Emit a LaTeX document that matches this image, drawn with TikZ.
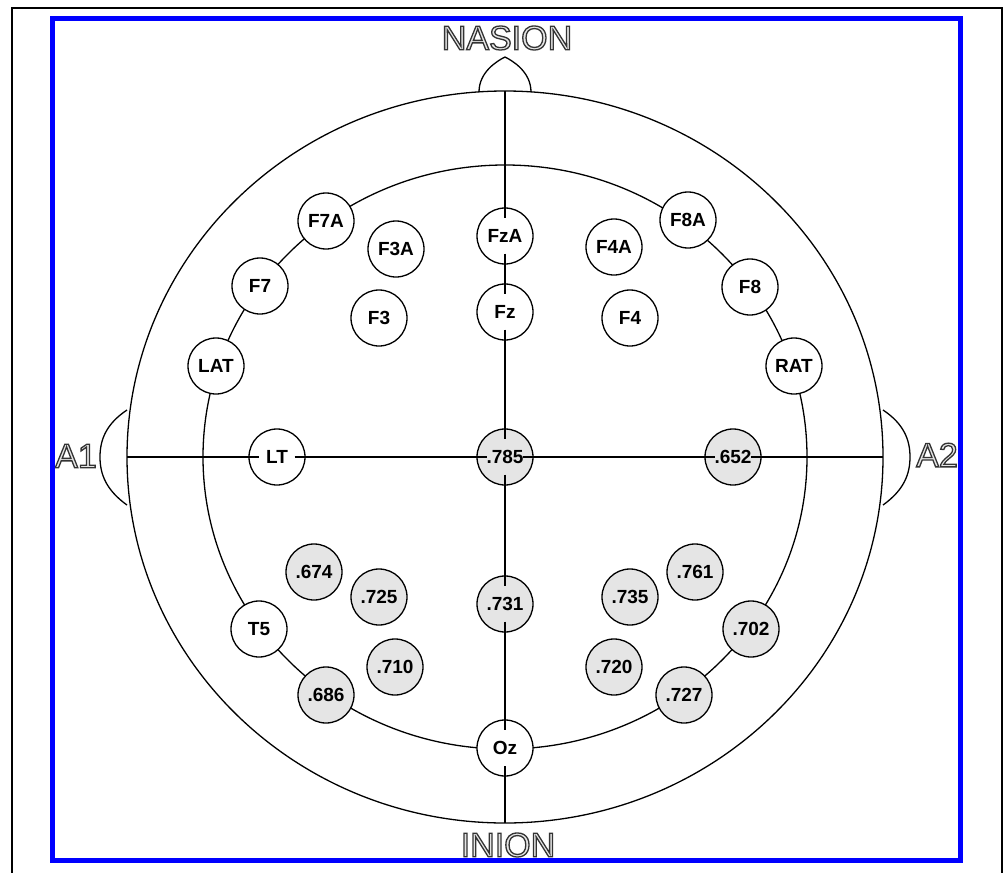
\documentclass[tikz,border=0pt]{standalone}
\usepackage{fontspec}
\setmainfont{Liberation Sans}
\newcommand{\hollow}[1]{\special{pdf:literal 2 Tr 1.3 w 0.2 G 0.9 g}#1\special{pdf:literal 0 Tr 0 G 0 g}}
\begin{document}
\begin{tikzpicture}[x=1pt,y=-1pt,line width=1.3pt,
  elec/.style={circle,draw,line width=1.3pt,fill=white,minimum size=56pt,inner sep=0pt,
    font=\bfseries\fontsize{19}{19}\selectfont},
  val/.style={elec,fill=black!10},
  landmark/.style={font=\fontsize{34}{34}\selectfont},
  stub/.style={line width=1.2pt,shorten <=-11pt,shorten >=-11pt},
  stubA/.style={line width=1.2pt,shorten >=-11pt}]
\useasboundingbox (0,0) rectangle (1003,872);
% outer frame
\draw[line width=1.5pt] (12,880) -- (12,8) -- (1002,8) -- (1002,880);
% head
\draw (505,457) ellipse [x radius=378, y radius=366];
\draw (479,92) .. controls (479,72) and (497,61) .. (505,57) .. controls (513,61) and (531,72) .. (531,92);
\draw (127,410) .. controls (106,424) and (100,440) .. (100,457) .. controls (100,474) and (106,490) .. (127,505);
\draw (883,410) .. controls (904,424) and (910,440) .. (910,457) .. controls (910,474) and (904,490) .. (883,505);
\draw (505,457) ellipse [x radius=302, y radius=292];
\coordinate (top) at (505,91);
\coordinate (bot) at (505,823);
\coordinate (lft) at (127,457);
\coordinate (rgt) at (883,457);
\draw[line width=1.2pt] (top) -- (bot);
\draw[line width=1.2pt] (lft) -- (rgt);
% electrodes
\node[elec] (F7A) at (326,221) {F7A};
\node[elec] (F3A) at (396,249) {F3A};
\node[elec] (FzA) at (505,236) {FzA};
\node[elec] (F4A) at (614,247) {F4A};
\node[elec] (F8A) at (688,220) {F8A};
\node[elec] (F7) at (260,286) {F7};
\node[elec] (F3) at (379,318) {F3};
\node[elec] (Fz) at (505,312) {Fz};
\node[elec] (F4) at (630,318) {F4};
\node[elec] (F8) at (750,287) {F8};
\node[elec] (LAT) at (216,366) {LAT};
\node[elec] (RAT) at (794,366) {RAT};
\node[elec] (LT) at (277,457) {LT};
\node[val] (C785) at (505,457) {.785};
\node[val] (C652) at (733,457) {.652};
\node[val] (C674) at (314,572) {.674};
\node[val] (C725) at (379,597) {.725};
\node[val] (C731) at (505,604) {.731};
\node[val] (C735) at (630,597) {.735};
\node[val] (C761) at (695,572) {.761};
\node[elec] (T5) at (259,629) {T5};
\node[val] (C702) at (751,629) {.702};
\node[val] (C710) at (395,667) {.710};
\node[val] (C720) at (614,667) {.720};
\node[val] (C686) at (326,695) {.686};
\node[val] (C727) at (684,695) {.727};
\node[elec] (Oz) at (505,748) {Oz};
% axis stubs entering the electrodes
\draw[stubA] (top) -- (FzA);
\draw[stub] (FzA) -- (Fz);
\draw[stub] (Fz) -- (C785);
\draw[stub] (C785) -- (C731);
\draw[stub] (C731) -- (Oz);
\draw[stubA] (bot) -- (Oz);
\draw[stubA] (lft) -- (LT);
\draw[stub] (LT) -- (C785);
\draw[stub] (C785) -- (C652);
\draw[stubA] (rgt) -- (C652);
% landmarks
\node[landmark] (nasion) at (507,38) {\hollow{NASION}};
\node[landmark] (inion) at (508,845) {\hollow{INION}};
\node[landmark] (a1) at (76,456) {\hollow{A1}};
\node[landmark] (a2) at (937,455) {\hollow{A2}};
% blue frame
\draw[blue,line width=5pt] (52.5,18.5) rectangle (960,860.5);
\end{tikzpicture}
\end{document}
